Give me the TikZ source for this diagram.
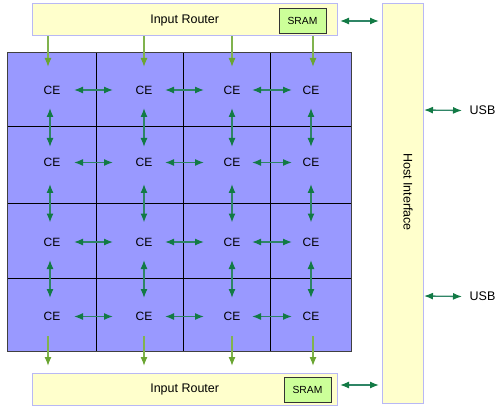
\documentclass[tikz,border=0pt]{standalone}
\usepackage{fontspec}
\setmainfont{Liberation Sans}
\usetikzlibrary{arrows.meta}
\definecolor{routerfill}{HTML}{FFFFCC}
\definecolor{routerline}{HTML}{B8B8F5}
\definecolor{sramfill}{HTML}{CCFF99}
\definecolor{gridfill}{HTML}{9999FF}
\definecolor{linkgreen}{HTML}{127A45}
\definecolor{linkstem}{HTML}{2F8566}
\definecolor{feedgreen}{HTML}{6AA532}
\definecolor{feedstem}{HTML}{80B34E}
\tikzset{
  routerbox/.style={draw=routerline, line width=1pt, fill=routerfill, inner sep=0pt},
  srambox/.style={draw=black!80, line width=0.9pt, fill=sramfill, inner sep=0pt, font=\fontsize{10.3}{12}\selectfont},
  celabel/.style={inner sep=0pt, font=\fontsize{12}{14}\selectfont},
  txt/.style={inner sep=0pt, font=\fontsize{12.5}{15}\selectfont},
  link/.style={draw=linkstem, line width=1.3pt, {Latex[length=9pt,width=7pt,color=linkgreen]}-{Latex[length=9pt,width=7pt,color=linkgreen]}},
  feed/.style={draw=feedstem, line width=1.3pt, -{Latex[length=9pt,width=7pt,color=feedgreen]}}
}
\begin{document}
\begin{tikzpicture}[x=1pt,y=-1pt]
\useasboundingbox (0,0) rectangle (495,406);
% routers
\node[routerbox, minimum width=305pt, minimum height=32pt] (rtop) at (184.5,20) {};
\node[txt] (rtoptxt) at (184.7,20.5) {Input Router};
\node[srambox, minimum width=47pt, minimum height=25pt] (stop) at (302.5,20.5) {SRAM};
\node[routerbox, minimum width=305pt, minimum height=32pt] (rbot) at (184.5,389) {};
\node[txt] (rbottxt) at (184.7,389) {Input Router};
\node[srambox, minimum width=47pt, minimum height=25pt] (sbot) at (307.5,389.5) {SRAM};
% host interface
\node[routerbox, minimum width=41pt, minimum height=399pt] (host) at (402.5,203.5) {};
\node[txt, rotate=-90] (hosttxt) at (408,192) {Host Interface};
% grid
\fill[gridfill] (7,53) rectangle (351,351);
\draw[black, line width=0.9pt] (96,53) -- (96,351) (183,53) -- (183,351) (270,53) -- (270,351)
  (7,126.5) -- (351,126.5) (7,203.5) -- (351,203.5) (7,278.5) -- (351,278.5);
\draw[black!75, line width=1pt] (7,53) rectangle (351,351);
% CE labels
\foreach \r/\y in {1/90,2/162.5,3/242,4/316}{
  \foreach \k/\x in {1/52,2/144,3/232,4/311}{
    \node[celabel] (ce\r\k) at (\x,\y) {CE};
  }
}
% horizontal links
\foreach \r/\y in {1/90,2/162.5,3/242,4/316.5}{
  \foreach \a/\b [count=\i] in {74/113,165/204,252/292}{
    \coordinate (h\r\i a) at (\a,\y);
    \coordinate (h\r\i b) at (\b,\y);
    \draw[link] (h\r\i a) -- (h\r\i b);
  }
}
% vertical links
\foreach \a/\b [count=\i] in {108/147,184/222.5,260/298}{
  \foreach \k/\x in {1/50,2/144,3/232,4/311}{
    \coordinate (v\i\k a) at (\x,\a);
    \coordinate (v\i\k b) at (\x,\b);
    \draw[link] (v\i\k a) -- (v\i\k b);
  }
}
% feeds from routers
\foreach \k/\x in {1/48,2/144,3/232,4/313}{
  \coordinate (ft\k a) at (\x,36.5);
  \coordinate (ft\k b) at (\x,67);
  \draw[feed] (ft\k a) -- (ft\k b);
  \coordinate (fb\k a) at (\x,336);
  \coordinate (fb\k b) at (\x,366);
  \draw[feed] (fb\k a) -- (fb\k b);
}
% router - host links
\coordinate (rh1a) at (340,21);
\coordinate (rh1b) at (379,21);
\draw[link] (rh1a) -- (rh1b);
\coordinate (rh2a) at (340,385);
\coordinate (rh2b) at (379,385);
\draw[link] (rh2a) -- (rh2b);
% USB
\node[txt, anchor=west] (usb1) at (469.5,110.5) {USB};
\node[txt, anchor=west] (usb2) at (469.5,296.5) {USB};
\coordinate (u1a) at (424,110);
\coordinate (u2a) at (424,296);
\draw[link] (u1a) -- ([xshift=-7.5pt]usb1.west);
\draw[link] (u2a) -- ([xshift=-7.5pt]usb2.west);
\end{tikzpicture}
\end{document}
